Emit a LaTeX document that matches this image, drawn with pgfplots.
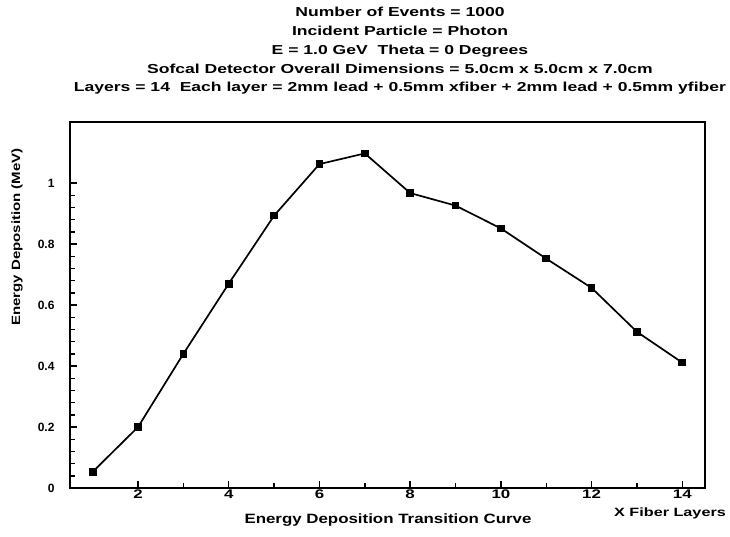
\documentclass[border=0pt]{standalone}
\usepackage{fontspec}
\setmainfont{Liberation Sans}
\newfontfamily\wide[FakeStretch=1.25]{Liberation Sans}
\newfontfamily\wider[FakeStretch=1.35]{Liberation Sans}
\usepackage{pgfplots}
\pgfplotsset{compat=1.18}
\begin{document}
\begin{tikzpicture}
\useasboundingbox (-70pt,-48pt) rectangle (660pt,488pt);
\begin{axis}[
  scale only axis, width=635pt, height=366pt,
  at={(0pt,0pt)}, anchor=south west,
  xmin=0.5, xmax=14.5, ymin=0, ymax=1.2,
  xtick={2,4,6,8,10,12,14}, ytick={0,0.2,0.4,0.6,0.8,1},
  minor x tick num=1, minor y tick num=4,
  tick align=inside, tick pos=left,
  major tick length=7pt, minor tick length=5pt,
  axis line style={line width=1.6pt},
  every tick/.style={black, line width=1.4pt},
  /pgf/number format/assume math mode=true,
  xticklabel style={font=\wider\fontsize{12.5}{14}\selectfont\bfseries, yshift=2pt},
  yticklabel style={font=\fontsize{12}{14}\selectfont\bfseries, xshift=-12pt},
]
\addplot[black, line width=1.7pt, mark=square*, mark size=3pt] coordinates {
(1,0.053) (2,0.200) (3,0.440) (4,0.670) (5,0.893) (6,1.062) (7,1.097)
(8,0.967) (9,0.926) (10,0.851) (11,0.752) (12,0.656) (13,0.512) (14,0.411)
};
\end{axis}
\node[align=center, font=\wider\fontsize{13}{18.7}\selectfont\bfseries] at (330pt,437pt) {Number of Events = 1000\\Incident Particle = Photon\\E = 1.0 GeV\ \ Theta = 0 Degrees\\Sofcal Detector Overall Dimensions = 5.0cm x 5.0cm x 7.0cm\\Layers = 14\ \ Each layer = 2mm lead + 0.5mm xfiber + 2mm lead + 0.5mm yfiber};
\node[rotate=90, font=\wide\fontsize{12}{14}\selectfont\bfseries] at (-53pt,251pt) {Energy Deposition (MeV)};
\node[font=\wide\fontsize{13.5}{16}\selectfont\bfseries] at (318pt,-32pt) {Energy Deposition Transition Curve};
\node[font=\wider\fontsize{12}{14}\selectfont\bfseries] at (600pt,-25pt) {X Fiber Layers};
\end{tikzpicture}
\end{document}
